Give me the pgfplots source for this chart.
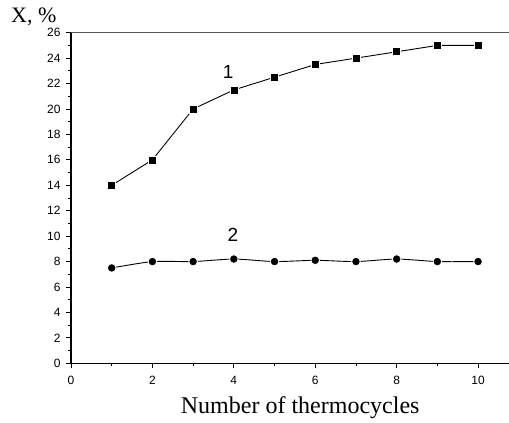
\documentclass[border=0pt]{standalone}
\usepackage{fontspec}
\setmainfont{Liberation Serif}
\setsansfont{Liberation Sans}
\usepackage{pgfplots}
\pgfplotsset{compat=1.18}
\definecolor{topline}{HTML}{555555}

\begin{document}
\begin{tikzpicture}
\begin{axis}[
  scale only axis, width=438pt, height=330.6pt,
  xmin=0, xmax=10.76, ymin=0, ymax=26,
  axis x line*=bottom, axis y line*=left,
  axis line style={black, line width=1.1pt, -},
  xtick={0,2,4,6,8,10}, ytick={0,2,...,26},
  minor xtick={1,3,5,7,9}, minor ytick={1,3,...,25},
  tick align=outside,
  major tick length=5pt, minor tick length=3pt,
  every tick/.style={black, line width=0.8pt},
  tick label style={font=\sffamily\fontsize{12}{14}\selectfont},
  xticklabel style={yshift=-4pt},
  yticklabel style={xshift=-2pt, inner ysep=1pt},
  /pgf/number format/assume math mode=true,
  clip=false]
  \addplot[black, line width=0.9pt, mark=square*,
    mark options={fill=black, draw=white, line width=0.6pt}, mark size=4pt]
    coordinates {(1,14) (2,16) (3,20) (4,21.5) (5,22.5) (6,23.5) (7,24) (8,24.5) (9,25) (10,25)};
  \addplot[black, line width=0.9pt, smooth, tension=0.4, mark=*,
    mark options={fill=black, draw=white, line width=0.8pt}, mark size=4.3pt]
    coordinates {(1,7.5) (2,8) (3,8) (4,8.2) (5,8) (6,8.1) (7,8) (8,8.2) (9,8) (10,8)};
  \node[font=\sffamily\fontsize{19}{22}\selectfont] at (axis cs:3.86,22.9) {1};
  \node[font=\sffamily\fontsize{19}{22}\selectfont] at (axis cs:3.98,10.1) {2};
  \draw[topline, line width=1.3pt] (rel axis cs:0,1) -- (rel axis cs:1,1);
  \coordinate (bl) at (rel axis cs:0,0);
  \coordinate (tr) at (rel axis cs:1,1);
  \node[anchor=base west, font=\fontsize{22}{24}\selectfont, inner sep=0pt]
    at ([xshift=-60pt, yshift=10pt]rel axis cs:0,1) {X, \%};
  \node[anchor=base, font=\fontsize{24}{28}\selectfont, inner sep=0pt]
    at ([yshift=-50pt]axis cs:5.63,0) {Number of thermocycles};
\end{axis}
\pgfresetboundingbox
\path ([xshift=-71pt, yshift=-59.7pt]bl) rectangle ([yshift=32.7pt]tr);
\end{tikzpicture}
\end{document}
